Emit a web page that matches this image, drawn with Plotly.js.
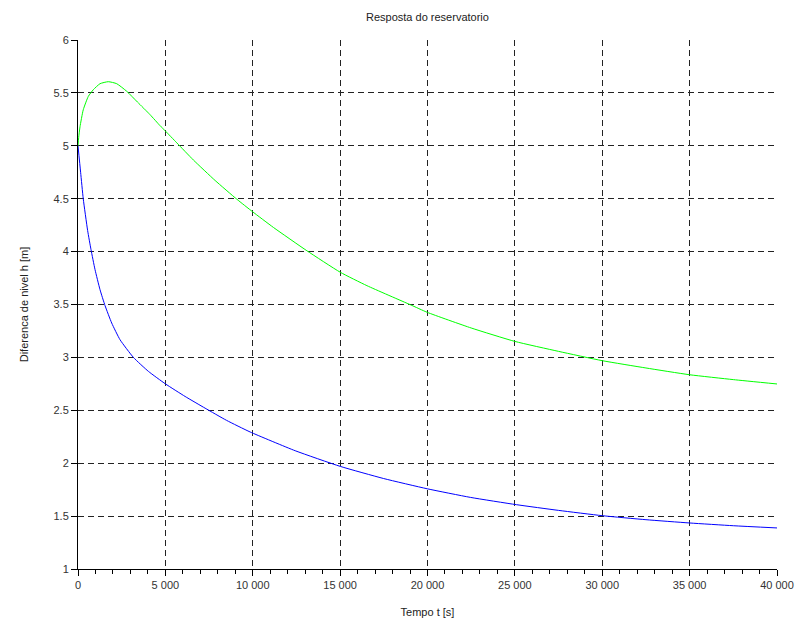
<!DOCTYPE html>
<html>
<head>
<meta charset="utf-8">
<script src="https://cdn.plot.ly/plotly-3.0.1.min.js"></script>
<style>html,body{margin:0;padding:0;background:#fff;}#chart{width:805px;height:634px;}</style>
</head>
<body>
<div id="chart"></div>
<script>
const tBlue = [0, 150, 300, 550, 745, 974, 1260, 1546, 1928, 2405, 3170, 4030, 5000, 6128, 7274, 8500, 9851, 12428, 15006, 17490, 19988, 22451, 25085, 27500, 30000, 32500, 35000, 37500, 40000];
const hBlue = [5.0, 4.75, 4.5, 4.2, 4.018, 3.83, 3.64, 3.49, 3.325, 3.167, 3.0, 2.868, 2.75, 2.631, 2.52, 2.405, 2.295, 2.118, 1.97, 1.855, 1.758, 1.677, 1.608, 1.554, 1.504, 1.466, 1.435, 1.409, 1.388];

const tGreen = [0, 40, 115, 300, 590, 876, 1260, 1735, 2216, 2790, 3400, 4124, 4696, 5000, 5653, 6607, 7847, 9090, 9983, 11186, 13098, 15006, 16535, 19015, 20000, 22500, 25000, 27500, 30000, 32500, 35000, 37500, 40000];
const hGreen = [5.0, 5.08, 5.18, 5.34, 5.467, 5.53, 5.587, 5.606, 5.587, 5.515, 5.414, 5.294, 5.19, 5.14, 5.028, 4.865, 4.672, 4.495, 4.378, 4.228, 4.008, 3.805, 3.678, 3.498, 3.425, 3.278, 3.151, 3.057, 2.969, 2.90, 2.836, 2.79, 2.749];

const xTickStep = 5000;
const xMinorStep = 1000;
const yTickVals = [1, 1.5, 2, 2.5, 3, 3.5, 4, 4.5, 5, 5.5, 6];
const yTickText = ["1", "1.5", "2", "2.5", "3", "3.5", "4", "4.5", "5", "5.5", "6"];

const traces = [
  {x: tGreen, y: hGreen, type: 'scatter', mode: 'lines', line: {color: '#00ff00', width: 1, shape: 'spline', smoothing: 0.5}, hoverinfo: 'skip'},
  {x: tBlue, y: hBlue, type: 'scatter', mode: 'lines', line: {color: '#0000ff', width: 1, shape: 'spline', smoothing: 0.5}, hoverinfo: 'skip'},
  {x: tBlue, y: hBlue, xaxis: 'x2', type: 'scatter', mode: 'lines', line: {color: 'rgba(0,0,0,0)', width: 0}, hoverinfo: 'skip'}
];

const layout = {
  width: 805, height: 634,
  margin: {l: 78, r: 27.5, t: 40, b: 65, pad: 0},
  paper_bgcolor: '#ffffff', plot_bgcolor: '#ffffff',
  showlegend: false,
  separators: '. ',
  font: {family: 'Liberation Sans, Arial, sans-serif', size: 11, color: '#333333'},
  title: {text: 'Resposta do reservatorio', x: 0.531, xanchor: 'center', y: 0.973, yanchor: 'middle', font: {size: 11, color: '#222222'}},
  xaxis: {
    range: [0, 40000], autorange: false,
    tickmode: 'linear', tick0: 0, dtick: xTickStep, tickformat: ',d',
    showline: true, linecolor: '#000000', linewidth: 1, mirror: false,
    ticks: 'outside', ticklen: 6, tickwidth: 1, tickcolor: '#000000',
    showgrid: true, gridcolor: '#222222', gridwidth: 1, griddash: '6px,4px',
    zeroline: false,
    tickfont: {size: 11, color: '#333333'},
    title: {text: 'Tempo t [s]', standoff: 18, font: {size: 11, color: '#222222'}}
  },
  xaxis2: {
    overlaying: 'x', side: 'bottom', anchor: 'y',
    range: [0, 40000], autorange: false,
    tickmode: 'linear', tick0: 0, dtick: xMinorStep,
    showticklabels: false, showgrid: false, zeroline: false, showline: false,
    ticks: 'outside', ticklen: 4, tickwidth: 1, tickcolor: '#000000'
  },
  yaxis: {
    range: [1, 6], autorange: false,
    tickmode: 'array', tickvals: yTickVals, ticktext: yTickText,
    showline: true, linecolor: '#000000', linewidth: 1, mirror: false,
    ticks: 'outside', ticklen: 6, tickwidth: 1, tickcolor: '#000000',
    showgrid: true, gridcolor: '#222222', gridwidth: 1, griddash: '6px,4px',
    zeroline: false,
    tickfont: {size: 11, color: '#333333'},
    title: {text: 'Diferenca de nivel h [m]', standoff: 22, font: {size: 11, color: '#222222'}}
  }
};

Plotly.newPlot('chart', traces, layout, {staticPlot: true, displayModeBar: false});
</script>
</body>
</html>
